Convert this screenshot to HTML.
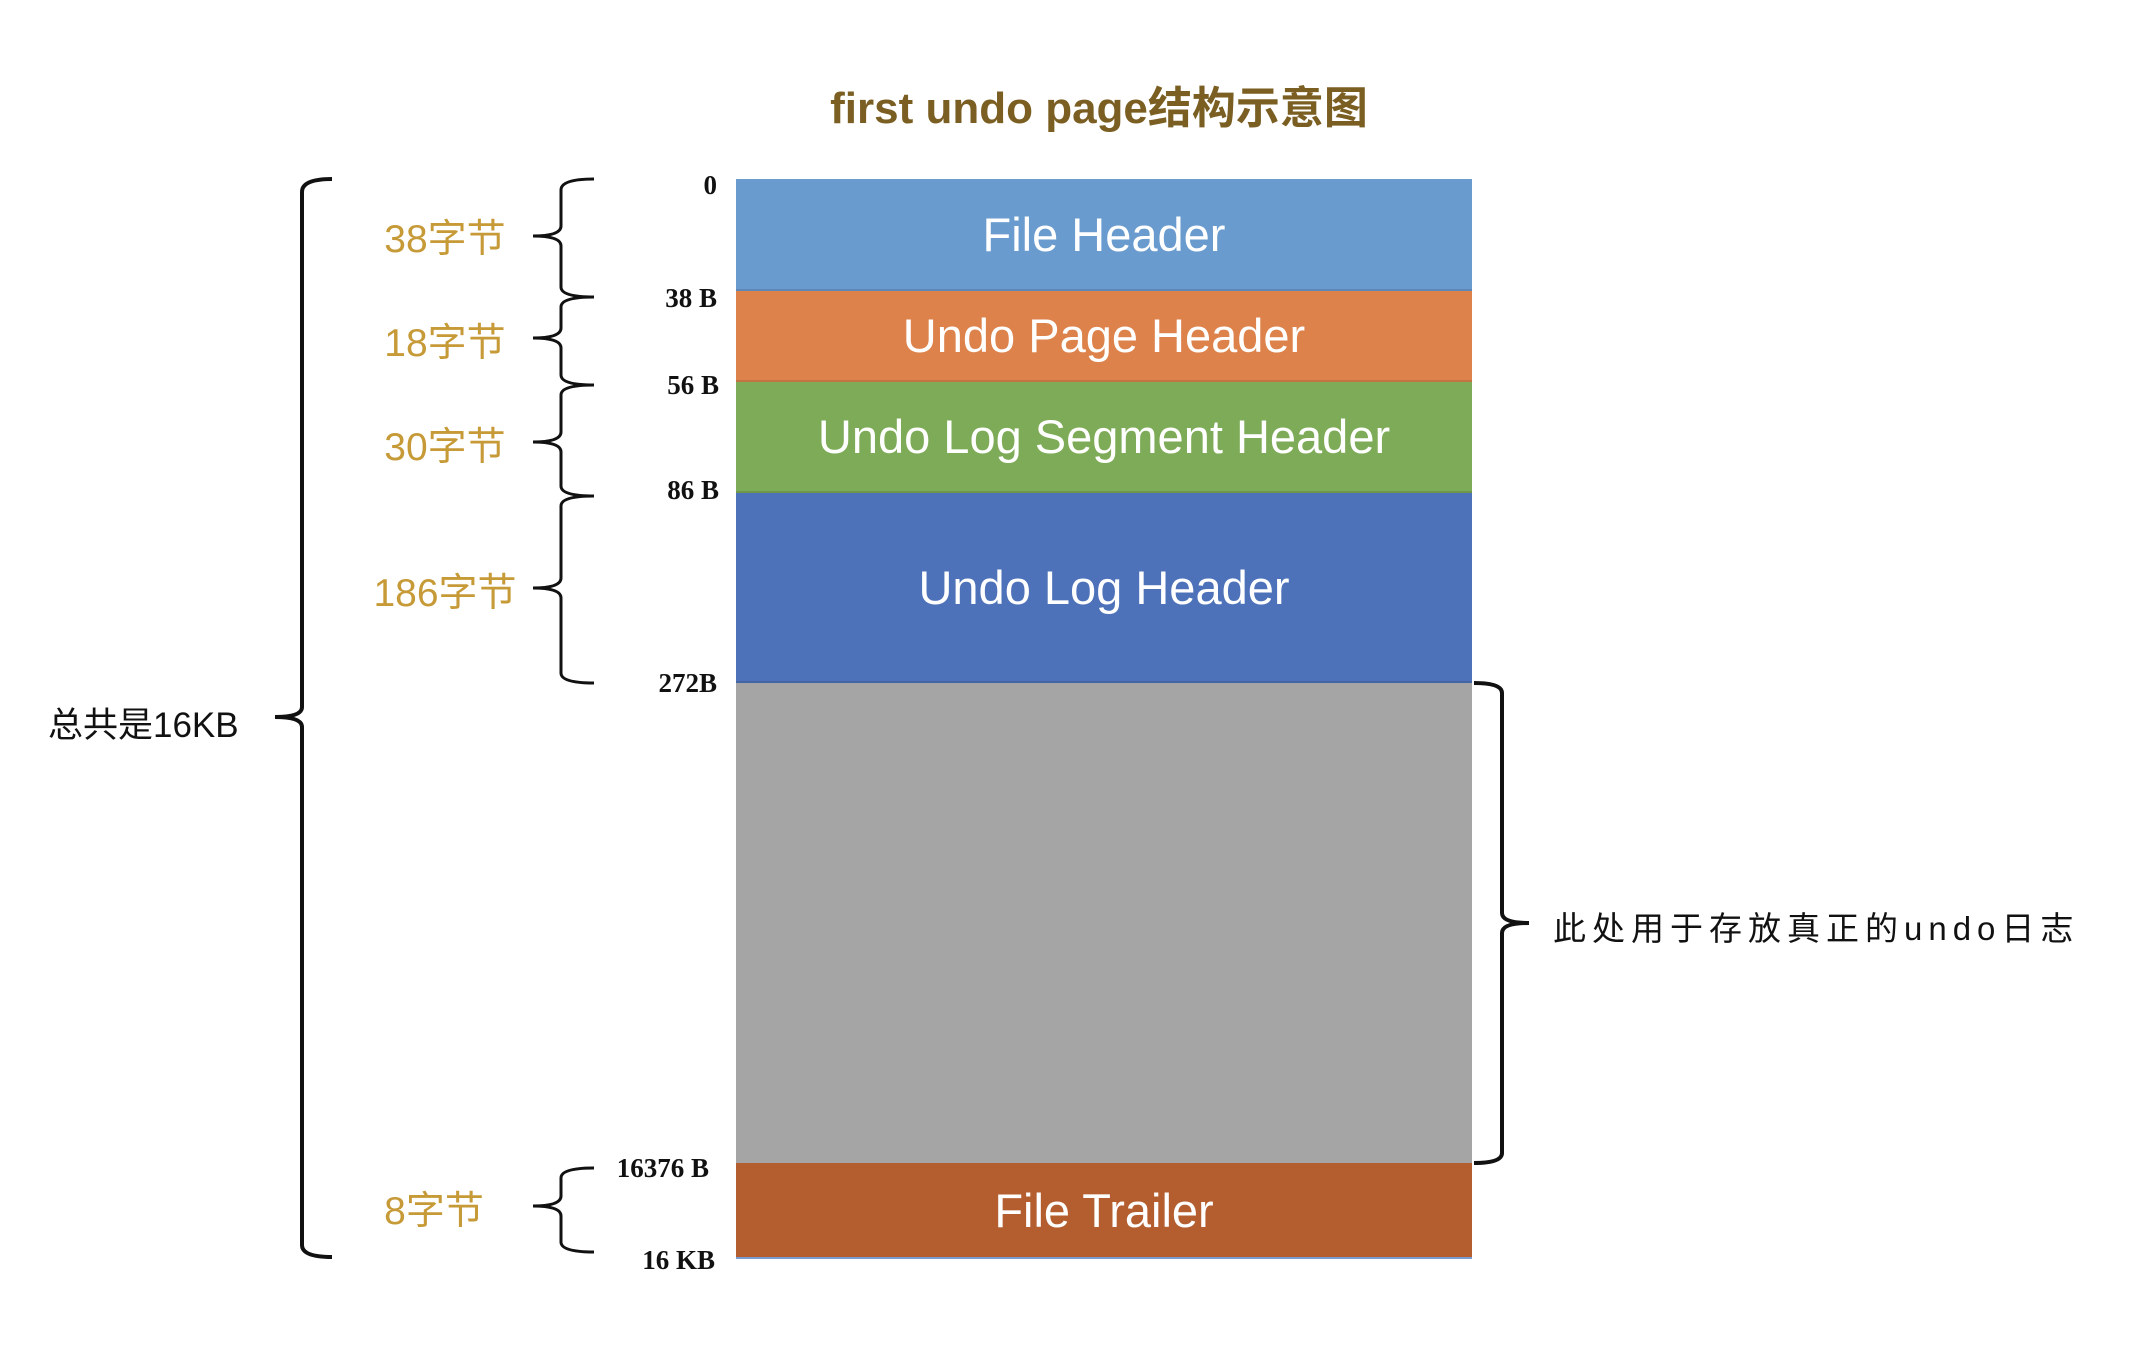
<!DOCTYPE html>
<html><head><meta charset="utf-8"><style>
html,body{margin:0;padding:0;background:#fff;}
.wrap{position:relative;width:2154px;height:1352px;overflow:hidden;font-family:"Liberation Sans","Noto Sans CJK SC",sans-serif;}
.t{position:absolute;white-space:nowrap;}
.seg{position:absolute;left:736px;width:736px;display:flex;align-items:center;justify-content:center;color:#fff;font-size:47px;box-sizing:border-box;border-bottom:2px solid rgba(0,0,0,0.12);}
.off{position:absolute;font-family:"Liberation Serif",serif;font-weight:bold;font-size:27px;color:#111;text-align:right;width:200px;}
.gold{position:absolute;color:#c79a38;font-size:39px;text-align:center;width:200px;}
</style></head><body><div class="wrap">
<div class="t" style="left:0;width:2198px;text-align:center;top:72px;font-size:44px;font-weight:bold;color:#7a5e22;">first undo page结构示意图</div>

<div class="seg" style="top:179px;height:112px;background:#6a9bcf;">File Header</div>
<div class="seg" style="top:291px;height:91px;background:#de824b;">Undo Page Header</div>
<div class="seg" style="top:382px;height:111px;background:#7eab57;">Undo Log Segment Header</div>
<div class="seg" style="top:493px;height:190px;background:#4e72ba;">Undo Log Header</div>
<div class="seg" style="top:683px;height:480px;background:#a5a5a5;border-bottom:none;"></div>
<div class="seg" style="top:1163px;height:96px;background:#b45e2f;border-bottom:2px solid #7a9cd0;">File Trailer</div>

<div class="off" style="left:517px;top:170px;">0</div>
<div class="off" style="left:517px;top:283px;">38 B</div>
<div class="off" style="left:519px;top:370px;">56 B</div>
<div class="off" style="left:519px;top:475px;">86 B</div>
<div class="off" style="left:517px;top:668px;">272B</div>
<div class="off" style="left:509px;top:1153px;">16376 B</div>
<div class="off" style="left:515px;top:1245px;">16 KB</div>

<div class="gold" style="left:345px;top:208px;">38字节</div>
<div class="gold" style="left:345px;top:312px;">18字节</div>
<div class="gold" style="left:345px;top:416px;">30字节</div>
<div class="gold" style="left:345px;top:562px;">186字节</div>
<div class="gold" style="left:334px;top:1180px;">8字节</div>

<div class="t" style="left:48px;top:697px;font-size:35px;color:#111;">总共是16KB</div>
<div class="t" style="left:1553px;top:902px;font-size:33px;color:#111;letter-spacing:6px;">此处用于存放真正的undo日志</div>

<svg width="2154" height="1352" style="position:absolute;left:0;top:0" fill="none" stroke="#111" stroke-width="3">
<path d="M594,179 Q561,179 561,190 L561,226 Q561,236 533,236 Q561,236 561,246 L561,287 Q561,297 594,297"/>
<path d="M594,297 Q561,297 561,307 L561,328 Q561,338 533,338 Q561,338 561,348 L561,375 Q561,385 594,385"/>
<path d="M594,385 Q561,385 561,395 L561,432 Q561,442 533,442 Q561,442 561,452 L561,486 Q561,496 594,496"/>
<path d="M594,496 Q561,496 561,506 L561,578 Q561,588 533,588 Q561,588 561,598 L561,673 Q561,683 594,683"/>
<path d="M594,1168 Q561,1168 561,1178 L561,1196 Q561,1206 533,1206 Q561,1206 561,1216 L561,1242 Q561,1252 594,1252"/>
<path stroke-width="4" d="M332,179 Q302,179 302,192 L302,707 Q302,717 275,717 Q302,717 302,727 L302,1245 Q302,1257 332,1257"/>
<path stroke-width="4" d="M1474,683 Q1502,683 1502,693 L1502,913 Q1502,923 1529,923 Q1502,923 1502,933 L1502,1153 Q1502,1163 1474,1163"/>
</svg>
</div></body></html>
